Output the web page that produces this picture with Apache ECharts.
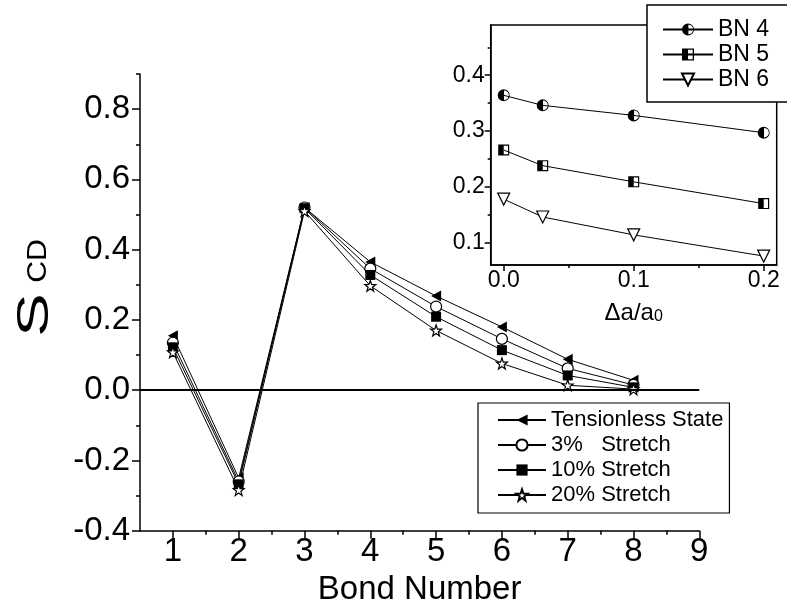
<!DOCTYPE html>
<html>
<head>
<meta charset="utf-8">
<script src="https://cdn.jsdelivr.net/npm/echarts@6/dist/echarts.min.js"></script>
<style>
html, body { margin: 0; padding: 0; background: #fff; }
#chart { width: 787px; height: 613px; }
</style>
</head>
<body>
<div id="chart"></div>
<script>
// Order parameter S_CD along the chain for each stretch level
const bondNumbers = [1, 2, 3, 4, 5, 6, 7, 8];
const tensionless = [0.155, -0.250, 0.520, 0.365, 0.268, 0.180, 0.088, 0.028];
const stretch3    = [0.135, -0.260, 0.520, 0.346, 0.238, 0.146, 0.062, 0.015];
const stretch10   = [0.122, -0.268, 0.518, 0.328, 0.209, 0.114, 0.042, 0.008];
const stretch20   = [0.108, -0.284, 0.510, 0.297, 0.170, 0.076, 0.014, 0.003];

// Inset: S_CD of bonds 4-6 against relative stretch
const strain = [0, 0.03, 0.1, 0.2];
const bn4 = [0.364, 0.346, 0.328, 0.297];
const bn5 = [0.266, 0.238, 0.209, 0.170];
const bn6 = [0.178, 0.146, 0.114, 0.076];

// Tick positions
const mainXTicks = [1, 2, 3, 4, 5, 6, 7, 8, 9];
const mainXMinor = [1.5, 2.5, 3.5, 4.5, 5.5, 6.5, 7.5, 8.5];
const mainYTicks = [-0.4, -0.2, 0, 0.2, 0.4, 0.6, 0.8];
const mainYMinor = [-0.3, -0.1, 0.1, 0.3, 0.5, 0.7, 0.9];
const insetXTicks = [0, 0.1, 0.2];
const insetXMinor = [0.05, 0.15];
const insetYTicks = [0.1, 0.2, 0.3, 0.4];
const insetYMinor = [0.15, 0.25, 0.35, 0.45];

const FONT = 'Liberation Sans, Arial, sans-serif';

// Marker shapes
const SYM_LEFT_TRI = 'path://M0,10L18,0L18,20Z';
const SYM_STAR = 'path://M10,0L12.35,6.76L19.51,6.91L13.8,11.24L15.88,18.09L10,14L4.12,18.09L6.2,11.24L0.49,6.91L7.65,6.76Z';
// left half solid, right half hollow (inner hole wound the other way)
const SYM_HALF_CIRCLE = 'path://M10,0A10,10,0,1,1,10,20A10,10,0,1,1,10,0ZM10.6,2L10.6,18A8,8,0,0,0,10.6,2Z';
const SYM_HALF_SQUARE = 'path://M0,0L20,0L20,20L0,20ZM10,2.2L10,17.8L17.8,17.8L17.8,2.2Z';
const SYM_DOWN_TRI = 'path://M0,0L20,0L10,18Z';

const solid = { color: '#000', borderWidth: 0 };
const hollow = { color: '#fff', borderColor: '#000', borderWidth: 1.2 };

function lineSeries(name, xs, ys, symbol, size, itemStyle, axisIdx) {
  return {
    type: 'line',
    name: name,
    xAxisIndex: axisIdx,
    yAxisIndex: axisIdx,
    data: xs.map((x, i) => [x, ys[i]]),
    symbol: symbol,
    symbolSize: size,
    showAllSymbol: true,
    lineStyle: { color: '#000', width: 1 },
    itemStyle: itemStyle,
    emphasis: { disabled: true },
    z: 3
  };
}

const tickLine = { color: '#000', width: 1.5 };

function valueAxis(extra) {
  return Object.assign({
    type: 'value',
    splitLine: { show: false },
    axisLine: { show: true, onZero: false, lineStyle: tickLine },
  }, extra);
}

function minorAxis(extra) {
  return Object.assign({
    type: 'value',
    splitLine: { show: false },
    axisLine: { show: false, onZero: false },
    axisLabel: { show: false },
  }, extra);
}

const chart = echarts.init(document.getElementById('chart'), null, { renderer: 'canvas' });

chart.setOption({
  animation: false,
  backgroundColor: '#fff',
  textStyle: { fontFamily: FONT, color: '#000' },
  grid: [
    { left: 140, right: 87.7, top: 74, bottom: 82.3, outerBoundsMode: 'none', containLabel: false },
    { left: 490.7, right: 10.3, top: 25, bottom: 348, outerBoundsMode: 'none', containLabel: false,
      show: true, borderColor: '#000', borderWidth: 1.5, backgroundColor: '#fff' }
  ],
  xAxis: [
    valueAxis({
      gridIndex: 0, min: 0.5, max: 9, position: 'bottom',
      axisTick: { customValues: mainXTicks, length: 8, lineStyle: tickLine },
      axisLabel: { customValues: mainXTicks, fontSize: 33, color: '#000', margin: 5, fontFamily: FONT },
      name: 'Bond Number', nameLocation: 'middle', nameGap: 38,
      nameTextStyle: { fontSize: 33, color: '#000', fontFamily: FONT }
    }),
    valueAxis({
      gridIndex: 1, min: -0.01, max: 0.21, position: 'bottom',
      axisTick: { customValues: insetXTicks, length: 6, lineStyle: tickLine },
      axisLabel: { customValues: insetXTicks, fontSize: 23, color: '#000', margin: 4, fontFamily: FONT,
                   formatter: v => v.toFixed(1) },
      name: '{a|Δa/a}{s|0}', nameLocation: 'middle', nameGap: 36,
      nameTextStyle: {
        rich: {
          a: { fontSize: 24, color: '#000', fontFamily: FONT, padding: [0, 0, 7, 0] },
          s: { fontSize: 16, color: '#000', fontFamily: FONT }
        }
      }
    }),
    minorAxis({
      gridIndex: 0, min: 0.5, max: 9, position: 'bottom',
      axisTick: { customValues: mainXMinor, length: 4, lineStyle: tickLine }
    }),
    minorAxis({
      gridIndex: 1, min: -0.01, max: 0.21, position: 'bottom',
      axisTick: { customValues: insetXMinor, length: 3, lineStyle: tickLine }
    })
  ],
  yAxis: [
    valueAxis({
      gridIndex: 0, min: -0.4, max: 0.9, position: 'left',
      axisTick: { customValues: mainYTicks, length: 8, lineStyle: tickLine },
      axisLabel: { customValues: mainYTicks, fontSize: 33, color: '#000', margin: 10, fontFamily: FONT,
                   formatter: v => v.toFixed(1) }
    }),
    valueAxis({
      gridIndex: 1, min: 0.06, max: 0.49, position: 'left',
      axisTick: { customValues: insetYTicks, length: 6, lineStyle: tickLine },
      axisLabel: { customValues: insetYTicks, fontSize: 23, color: '#000', margin: 6, fontFamily: FONT,
                   formatter: v => v.toFixed(1) }
    }),
    minorAxis({
      gridIndex: 0, min: -0.4, max: 0.9, position: 'left',
      axisTick: { customValues: mainYMinor, length: 4, lineStyle: tickLine }
    }),
    minorAxis({
      gridIndex: 1, min: 0.06, max: 0.49, position: 'left',
      axisTick: { customValues: insetYMinor, length: 3, lineStyle: tickLine }
    })
  ],
  // Y-axis title S_CD, rotated to read upwards
  graphic: [
    {
      type: 'text', x: 36, y: 315, rotation: Math.PI / 2, scaleX: 1.45,
      style: { text: 'S', fontSize: 45, fontFamily: FONT, fill: '#000', align: 'center', verticalAlign: 'middle' }
    },
    {
      type: 'text', x: 39, y: 261, rotation: Math.PI / 2, scaleX: 1.12,
      style: { text: 'CD', fontSize: 27, fontFamily: FONT, fill: '#000', align: 'center', verticalAlign: 'middle' }
    }
  ],
  legend: [
    {
      data: ['Tensionless State', '3%   Stretch', '10% Stretch', '20% Stretch'],
      orient: 'vertical', left: 478, top: 403,
      padding: [6, 6, 7, 19], itemGap: 3, itemWidth: 48, itemHeight: 14,
      borderColor: '#000', borderWidth: 1.2, backgroundColor: '#fff',
      selectedMode: false,
      textStyle: { fontSize: 22, color: '#000', fontFamily: FONT }
    },
    {
      data: ['BN 4', 'BN 5', 'BN 6'],
      orient: 'vertical', left: 647, top: 5,
      padding: [13, 60, 11, 15], itemGap: 2, itemWidth: 50, itemHeight: 15,
      borderColor: '#000', borderWidth: 1.5, backgroundColor: '#fff',
      selectedMode: false, z: 10,
      textStyle: { fontSize: 23, color: '#000', fontFamily: FONT }
    }
  ],
  series: [
    Object.assign(lineSeries('Tensionless State', bondNumbers, tensionless, SYM_LEFT_TRI, [10, 11], solid, 0), {
      markLine: {
        silent: true, symbol: 'none', label: { show: false },
        lineStyle: { color: '#000', width: 1.8, type: 'solid' },
        data: [{ yAxis: 0 }]
      }
    }),
    lineSeries('3%   Stretch', bondNumbers, stretch3, 'circle', 11, hollow, 0),
    lineSeries('10% Stretch', bondNumbers, stretch10, 'rect', 10, solid, 0),
    lineSeries('20% Stretch', bondNumbers, stretch20, SYM_STAR, 11, hollow, 0),
    lineSeries('BN 4', strain, bn4, SYM_HALF_CIRCLE, 12, solid, 1),
    lineSeries('BN 5', strain, bn5, SYM_HALF_SQUARE, 11, solid, 1),
    lineSeries('BN 6', strain, bn6, SYM_DOWN_TRI, 12, hollow, 1)
  ]
});
</script>
</body>
</html>
